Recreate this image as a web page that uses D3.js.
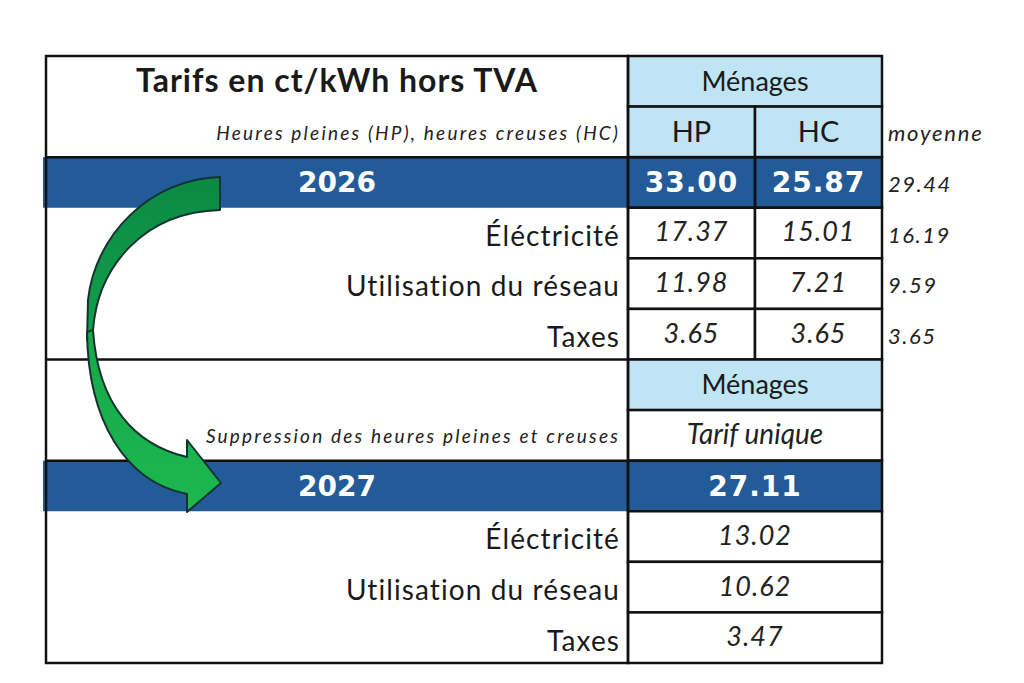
<!DOCTYPE html>
<html>
<head>
<meta charset="utf-8">
<script src="https://cdn.jsdelivr.net/npm/d3@7"></script>
<style>
  body { margin: 0; background: #fff; }
  .lbl { font-family: Lato, sans-serif; fill: #1a1a1a; }
  .it { font-family: Lato, sans-serif; font-style: italic; fill: #222; }
  .bold { font-family: "DejaVu Sans", sans-serif; font-weight: bold; fill: #fff; }
</style>
</head>
<body>
<svg id="chart" width="1024" height="683"></svg>
<script>
var title = "Tarifs en ct/kWh hors TVA";
var subtitle2026 = "Heures pleines (HP), heures creuses (HC)";
var subtitle2027 = "Suppression des heures pleines et creuses";
var groupName = "Ménages";
var periods = ["HP", "HC"];
var singleTariff = "Tarif unique";
var avgLabel = "moyenne";
var years = ["2026", "2027"];
var components = ["Éléctricité", "Utilisation du réseau", "Taxes"];

var totals2026 = [33.00, 25.87];
var hp2026 = [17.37, 11.98, 3.65];
var hc2026 = [15.01, 7.21, 3.65];
var avg2026 = [29.44, 16.19, 9.59, 3.65];
var total2027 = 27.11;
var values2027 = [13.02, 10.62, 3.47];

var blue = "#225b98", light = "#bfe4f4", line = "#111";
var fmt = d3.format(".2f");

var svg = d3.select("#chart");

// 12 rows of equal height, two blocks of 6
var y = d3.scaleBand().domain(d3.range(12)).range([56, 663]);
var x = d3.scaleOrdinal().domain(["label", "HP", "HC", "end"]).range([46, 628, 755, 882]);
var rh = y.bandwidth();
function cy(i) { return y(i) + rh / 2; }

var grid = svg.append("g");
var marks = svg.append("g");
var texts = svg.append("g");

// blue total bands
[2, 8].forEach(function(r){
  grid.append("rect").attr("x", 43).attr("y", y(r)).attr("width", x("end") - 43).attr("height", rh).attr("fill", blue);
});

// header cells
function cell(x0, x1, r, fill) {
  grid.append("rect").attr("x", x0).attr("y", y(r)).attr("width", x1 - x0).attr("height", rh)
    .attr("fill", fill || "none").attr("stroke", line).attr("stroke-width", 2.5);
}
cell(x("HP"), x("end"), 0, light);
cell(x("HP"), x("HC"), 1, light);
cell(x("HC"), x("end"), 1, light);
cell(x("HP"), x("HC"), 2);
cell(x("HC"), x("end"), 2);
components.forEach(function(c, i){
  cell(x("HP"), x("HC"), 3 + i, "#fff");
  cell(x("HC"), x("end"), 3 + i, "#fff");
});
cell(x("HP"), x("end"), 6, light);
cell(x("HP"), x("end"), 7, "#fff");
cell(x("HP"), x("end"), 8);
components.forEach(function(c, i){ cell(x("HP"), x("end"), 9 + i, "#fff"); });

// label block frame
grid.append("rect").attr("x", x("label")).attr("y", y(0)).attr("width", x("HP") - x("label"))
  .attr("height", y(11) + rh - y(0)).attr("fill", "none").attr("stroke", line).attr("stroke-width", 2.5);
[2, 6, 8].forEach(function(r){
  grid.append("line").attr("x1", x("label")).attr("x2", x("HP")).attr("y1", y(r)).attr("y2", y(r))
    .attr("stroke", line).attr("stroke-width", 2.5);
});

// curved arrow 2026 -> 2027
var defs = svg.append("defs");
var g1 = defs.append("linearGradient").attr("id", "gtop").attr("x1", 0).attr("y1", 0).attr("x2", 0).attr("y2", 1);
g1.append("stop").attr("offset", 0).attr("stop-color", "#0a8a44");
g1.append("stop").attr("offset", 1).attr("stop-color", "#13a04a");
var g2 = defs.append("linearGradient").attr("id", "gbot").attr("x1", 0).attr("y1", 0).attr("x2", 0).attr("y2", 1);
g2.append("stop").attr("offset", 0).attr("stop-color", "#17a84a");
g2.append("stop").attr("offset", 1).attr("stop-color", "#1cb84f");
marks.append("path")
  .attr("d", "M220,177 C150,179 95,235 88,300 L87,340 L93,330 C98,265 145,212 220,210 Z")
  .attr("fill", "url(#gtop)").attr("stroke", "#123333").attr("stroke-width", 2).attr("stroke-linejoin", "round");
marks.append("path")
  .attr("d", "M87,332 C88,420 125,482 187,494 L187,512 L221,483 L187,440 L187,457 C135,445 98,405 93,330 Z")
  .attr("fill", "url(#gbot)").attr("stroke", "#123333").attr("stroke-width", 2).attr("stroke-linejoin", "round");

// texts
var labelRight = 620;
var midLabel = (x("label") + x("HP")) / 2;
function txt(cls, tx, ty, s, size, anchor, extra) {
  var t = texts.append("text").attr("class", cls).attr("x", tx).attr("y", ty).attr("dy", "0.35em")
    .attr("font-size", size).attr("text-anchor", anchor || "middle").text(s);
  if (extra) extra(t);
  return t;
}
function spaced(n) { return function(t){ t.attr("letter-spacing", n); }; }

txt("lbl", midLabel, cy(0), title, 32, "middle", function(t){ t.attr("font-weight", "bold").attr("letter-spacing", 1); });
txt("it", labelRight, cy(1) + 1, subtitle2026, 19, "end", spaced(2.2));
txt("lbl", (x("HP") + x("end")) / 2, cy(0), groupName, 27);
periods.forEach(function(p, i){
  var x0 = x(p), x1 = i === 0 ? x("HC") : x("end");
  txt("lbl", (x0 + x1) / 2, cy(1), p, 29);
});
txt("it", 888, cy(1) + 1, avgLabel, 22, "start", spaced(1.8));

txt("bold", midLabel, cy(2), years[0], 28);
totals2026.forEach(function(v, i){
  var x0 = x(periods[i]), x1 = i === 0 ? x("HC") : x("end");
  txt("bold", (x0 + x1) / 2, cy(2), fmt(v), 28, "middle", spaced(1));
});

components.forEach(function(c, i){
  txt("lbl", labelRight, cy(3 + i) + 3, c, 28, "end", spaced(1.1));
  txt("it", (x("HP") + x("HC")) / 2, cy(3 + i) - 1, fmt(hp2026[i]), 27, "middle", spaced(1));
  txt("it", (x("HC") + x("end")) / 2, cy(3 + i) - 1, fmt(hc2026[i]), 27, "middle", spaced(1));
});
avg2026.forEach(function(v, i){
  txt("it", 888, cy(2 + i) + 2, fmt(v), 22, "start", spaced(1.5));
});

txt("lbl", (x("HP") + x("end")) / 2, cy(6), groupName, 27);
txt("it", labelRight, cy(7) + 1, subtitle2027, 19, "end", spaced(2.2));
txt("it", (x("HP") + x("end")) / 2, cy(7) - 1, singleTariff, 28);
txt("bold", midLabel, cy(8), years[1], 28);
txt("bold", (x("HP") + x("end")) / 2, cy(8), fmt(total2027), 28, "middle", spaced(1));
components.forEach(function(c, i){
  txt("lbl", labelRight, cy(9 + i) + 3, c, 28, "end", spaced(1.1));
  txt("it", (x("HP") + x("end")) / 2, cy(9 + i) - 1, fmt(values2027[i]), 27, "middle", spaced(1));
});
</script>
</body>
</html>
